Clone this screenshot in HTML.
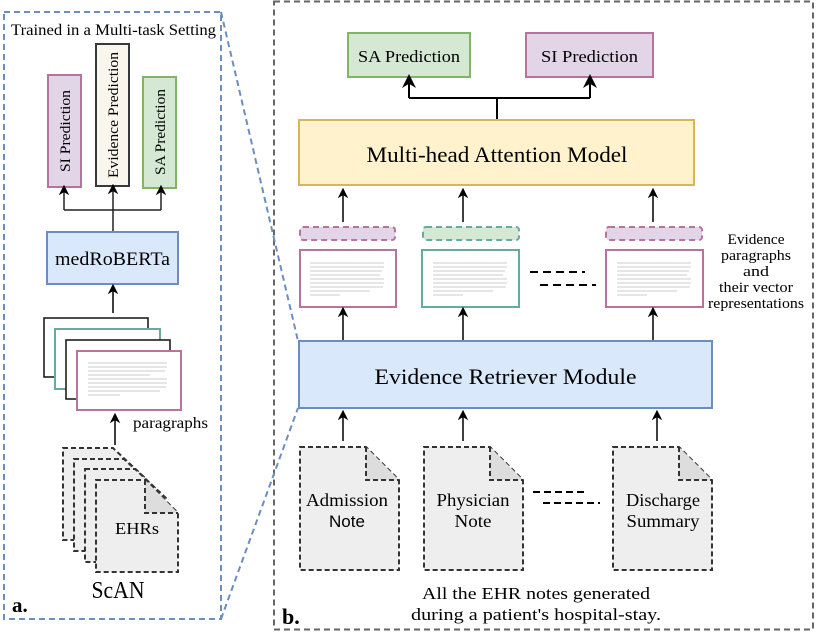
<!DOCTYPE html>
<html><head><meta charset="utf-8"><style>
html,body{margin:0;padding:0;background:#fff;}
svg{display:block;font-family:"Liberation Serif",serif;}
</style></head><body>
<svg width="818" height="643" viewBox="0 0 818 643" xmlns="http://www.w3.org/2000/svg">
<defs>
<marker id="ar" viewBox="0 0 10 10" refX="5" refY="5" markerWidth="7" markerHeight="7" orient="auto-start-reverse">
<path d="M0,0 L10,5 L0,10 L3,5 z" fill="#000"/></marker>
</defs>
<rect x="274" y="1.5" width="539" height="628" fill="none" stroke="#666" stroke-width="2" stroke-dasharray="6,4"/>
<rect x="4" y="12" width="217" height="607" fill="none" stroke="#6c8ebf" stroke-width="2" stroke-dasharray="6,4"/>
<line x1="221" y1="12" x2="298" y2="341" stroke="#6c8ebf" stroke-width="2" stroke-dasharray="6,4"/>
<line x1="221" y1="619" x2="298" y2="408" stroke="#6c8ebf" stroke-width="2" stroke-dasharray="6,4"/>

<text x="11" y="35" font-size="16" textLength="205" lengthAdjust="spacingAndGlyphs">Trained in a Multi-task Setting</text>
<rect x="48" y="75" width="33" height="112" fill="#e1d5e7" stroke="#b5739d" stroke-width="2"/>
<text transform="translate(70,131) rotate(-90)" font-size="15" text-anchor="middle" textLength="82" lengthAdjust="spacingAndGlyphs">SI Prediction</text>
<rect x="96" y="44" width="33" height="142" fill="#f9f7ed" stroke="#36393d" stroke-width="2"/>
<text transform="translate(118,115) rotate(-90)" font-size="15" text-anchor="middle" textLength="126" lengthAdjust="spacingAndGlyphs">Evidence Prediction</text>
<rect x="143" y="77" width="33" height="111" fill="#d5e8d4" stroke="#82b366" stroke-width="2"/>
<text transform="translate(165,132) rotate(-90)" font-size="15" text-anchor="middle" textLength="86" lengthAdjust="spacingAndGlyphs">SA Prediction</text>
<path d="M113,232 V210 M64,210 H161" stroke="#222" stroke-width="1.5" fill="none"/>
<line x1="64" y1="210" x2="64" y2="190" stroke="#222" stroke-width="1.5" marker-end="url(#ar)"/>
<line x1="113" y1="210" x2="113" y2="189" stroke="#222" stroke-width="1.5" marker-end="url(#ar)"/>
<line x1="161" y1="210" x2="161" y2="190" stroke="#222" stroke-width="1.5" marker-end="url(#ar)"/>
<rect x="47" y="232" width="131" height="52" fill="#dae8fc" stroke="#6c8ebf" stroke-width="2"/>
<text x="112.5" y="265" font-size="19" text-anchor="middle" textLength="115" lengthAdjust="spacingAndGlyphs">medRoBERTa</text>
<line x1="113" y1="313" x2="113" y2="289" stroke="#000" stroke-width="1.5" marker-end="url(#ar)"/>
<rect x="44" y="318" width="104" height="59" fill="#fff" stroke="#111" stroke-width="1.5"/>
<rect x="55" y="329" width="105" height="60" fill="#fff" stroke="#67ab9f" stroke-width="2"/>
<rect x="66" y="340" width="104" height="59" fill="#fff" stroke="#111" stroke-width="1.5"/>
<rect x="77" y="351" width="104" height="59" fill="#fff" stroke="#b5739d" stroke-width="2"/>
<g stroke="#ccc" stroke-width="1">
<path d="M88,363H167M88,367H167M88,371H165M88,375H150M88,379H167M88,383H167M88,387H166M88,391H160M88,395H120"/>
</g>
<line x1="115" y1="445" x2="115" y2="418" stroke="#000" stroke-width="1.5" marker-end="url(#ar)"/>
<text x="133" y="428" font-size="16" textLength="75" lengthAdjust="spacingAndGlyphs">paragraphs</text>
<g fill="#eee" stroke="#333" stroke-width="2" stroke-dasharray="5,3">
<path d="M63,448 H113 L144,477 V540 H63 Z"/>
<path d="M74,459 H124 L155,488 V551 H74 Z"/>
<path d="M85,469 H135 L166,498 V562 H85 Z"/>
<path d="M96,480 H145 L178,513 V572 H96 Z"/>
<path d="M145,480 V513 H178" fill="#ddd"/>
</g>
<text x="137" y="534" font-size="17" text-anchor="middle" textLength="44" lengthAdjust="spacingAndGlyphs">EHRs</text>
<text x="118" y="598" font-size="24" text-anchor="middle" textLength="53" lengthAdjust="spacingAndGlyphs">ScAN</text>
<text x="12" y="612" font-size="21" font-weight="bold">a.</text>

<rect x="348" y="33" width="122" height="44" fill="#d5e8d4" stroke="#82b366" stroke-width="2"/>
<text x="409" y="62" font-size="17" text-anchor="middle" textLength="102" lengthAdjust="spacingAndGlyphs">SA Prediction</text>
<rect x="526" y="33" width="127" height="44" fill="#e1d5e7" stroke="#b5739d" stroke-width="2"/>
<text x="589.5" y="62" font-size="17" text-anchor="middle" textLength="97" lengthAdjust="spacingAndGlyphs">SI Prediction</text>
<path d="M497,120 V98 M409,98 H590" stroke="#000" stroke-width="2" fill="none"/>
<line x1="409" y1="98" x2="409" y2="81" stroke="#000" stroke-width="2" marker-end="url(#ar)"/>
<line x1="590" y1="98" x2="590" y2="81" stroke="#000" stroke-width="2" marker-end="url(#ar)"/>
<rect x="299" y="120" width="395" height="65" fill="#fff2cc" stroke="#d6b656" stroke-width="2"/>
<text x="497" y="162" font-size="22" text-anchor="middle" textLength="261" lengthAdjust="spacingAndGlyphs">Multi-head Attention Model</text>

<g stroke="#000" stroke-width="1.5">
<line x1="343" y1="222" x2="343" y2="193" marker-end="url(#ar)"/>
<line x1="463" y1="222" x2="463" y2="193" marker-end="url(#ar)"/>
<line x1="653" y1="222" x2="653" y2="193" marker-end="url(#ar)"/>
</g>
<g stroke-width="2" stroke-dasharray="6,4">
<rect x="300" y="227" width="95" height="13" rx="3" fill="#e1d5e7" stroke="#b5739d"/>
<rect x="423" y="227" width="96" height="13" rx="3" fill="#d5e8d4" stroke="#67ab9f"/>
<rect x="606" y="227" width="96" height="13" rx="3" fill="#e1d5e7" stroke="#b5739d"/>
</g>
<rect x="300" y="250" width="96" height="57" fill="#fff" stroke="#b5739d" stroke-width="2"/>
<rect x="422" y="250" width="97" height="57" fill="#fff" stroke="#67ab9f" stroke-width="2"/>
<rect x="606" y="250" width="97" height="57" fill="#fff" stroke="#b5739d" stroke-width="2"/>
<g stroke="#ccc" stroke-width="1">
<path d="M310,263H384M310,267H384M310,271H382M310,275H380M310,279H384M310,283H384M310,287H383M310,291H370M310,295H340"/>
<path d="M433,263H507M433,267H507M433,271H505M433,275H503M433,279H507M433,283H507M433,287H506M433,291H493M433,295H463"/>
<path d="M617,263H691M617,267H691M617,271H689M617,275H687M617,279H691M617,283H691M617,287H690M617,291H677M617,295H647"/>
</g>
<g stroke="#000" stroke-width="2" stroke-dasharray="8,5">
<line x1="530" y1="272" x2="585" y2="272"/>
<line x1="540" y1="285" x2="596" y2="285"/>
</g>
<g font-size="15" text-anchor="middle" lengthAdjust="spacingAndGlyphs">
<text x="756" y="244" textLength="57" lengthAdjust="spacingAndGlyphs">Evidence</text>
<text x="756" y="260" textLength="70" lengthAdjust="spacingAndGlyphs">paragraphs</text>
<text x="756" y="276" textLength="26" lengthAdjust="spacingAndGlyphs">and</text>
<text x="756" y="292" textLength="74" lengthAdjust="spacingAndGlyphs">their vector</text>
<text x="756" y="308" textLength="96" lengthAdjust="spacingAndGlyphs">representations</text>
</g>
<g stroke="#000" stroke-width="1.5">
<line x1="343" y1="340" x2="343" y2="312" marker-end="url(#ar)"/>
<line x1="463" y1="340" x2="463" y2="312" marker-end="url(#ar)"/>
<line x1="653" y1="340" x2="653" y2="312" marker-end="url(#ar)"/>
</g>
<rect x="299" y="341" width="413" height="67" fill="#dae8fc" stroke="#6c8ebf" stroke-width="2"/>
<text x="505.5" y="384" font-size="22" text-anchor="middle" textLength="262" lengthAdjust="spacingAndGlyphs">Evidence Retriever Module</text>
<g stroke="#000" stroke-width="1.5">
<line x1="343" y1="441" x2="343" y2="415" marker-end="url(#ar)"/>
<line x1="463" y1="441" x2="463" y2="415" marker-end="url(#ar)"/>
<line x1="657" y1="441" x2="657" y2="415" marker-end="url(#ar)"/>
</g>
<g fill="#eee" stroke="#333" stroke-width="2" stroke-dasharray="5,3">
<path d="M300,447 H366 L399,480 V570 H300 Z"/>
<path d="M366,447 V480 H399" fill="#ddd"/>
<path d="M424,447 H490 L523,480 V570 H424 Z"/>
<path d="M490,447 V480 H523" fill="#ddd"/>
<path d="M613,447 H679 L712,480 V570 H613 Z"/>
<path d="M679,447 V480 H712" fill="#ddd"/>
</g>
<g font-size="18" text-anchor="middle">
<text x="347" y="506" textLength="82" lengthAdjust="spacingAndGlyphs">Admission</text>
<text x="347" y="527" font-family="Liberation Sans, sans-serif" font-size="17">Note</text>
<text x="473" y="506" textLength="73" lengthAdjust="spacingAndGlyphs">Physician</text>
<text x="473" y="527" textLength="37" lengthAdjust="spacingAndGlyphs">Note</text>
<text x="663" y="506" textLength="74" lengthAdjust="spacingAndGlyphs">Discharge</text>
<text x="663" y="527" textLength="73" lengthAdjust="spacingAndGlyphs">Summary</text>
</g>
<g stroke="#000" stroke-width="2" stroke-dasharray="7,4">
<line x1="533" y1="492" x2="588" y2="492"/>
<line x1="543" y1="503" x2="600" y2="503"/>
</g>
<g font-size="17" text-anchor="middle">
<text x="536" y="599" textLength="228" lengthAdjust="spacingAndGlyphs">All the EHR notes generated</text>
<text x="536" y="620" textLength="250" lengthAdjust="spacingAndGlyphs">during a patient's hospital-stay.</text>
</g>
<text x="282" y="624" font-size="22" font-weight="bold">b.</text>
</svg>
</body></html>
